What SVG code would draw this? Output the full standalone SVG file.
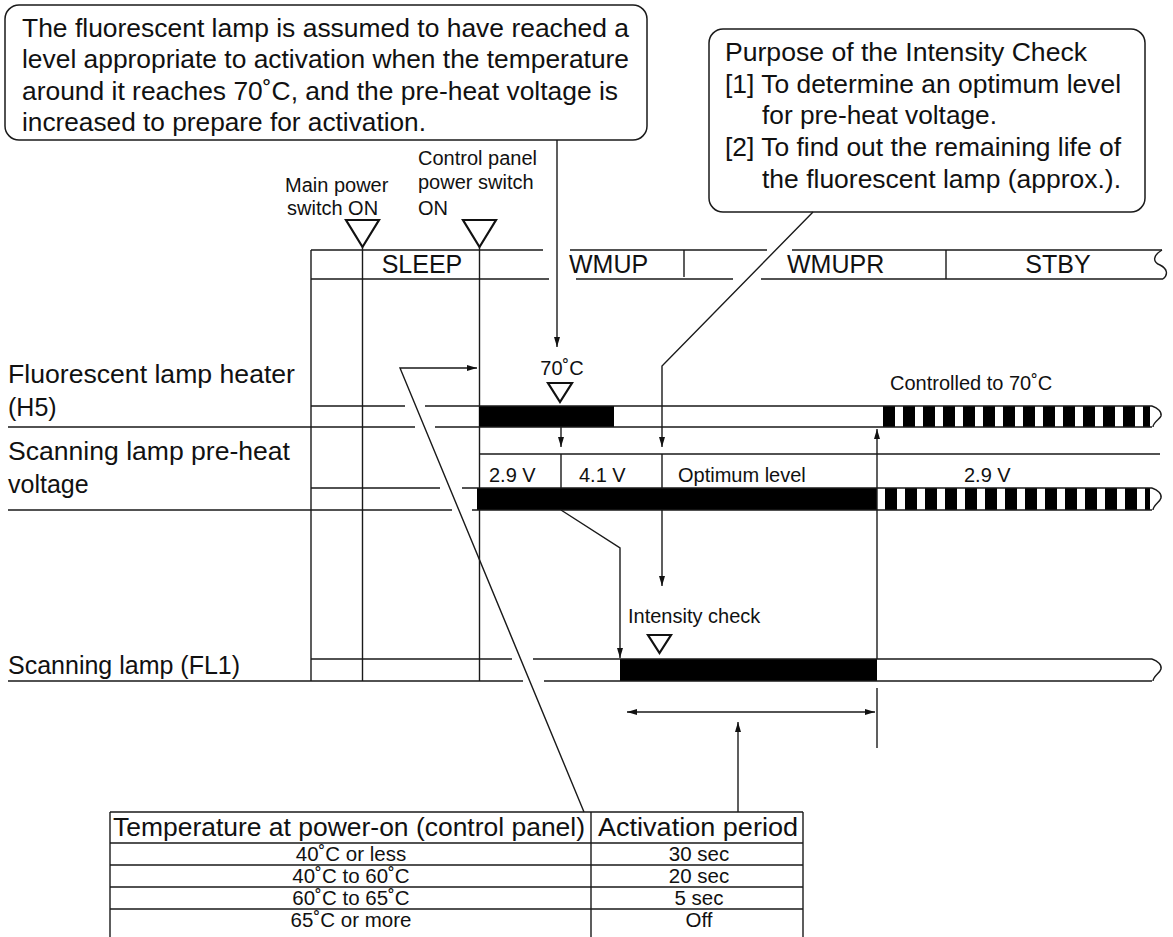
<svg xmlns="http://www.w3.org/2000/svg" width="1173" height="937" viewBox="0 0 1173 937">
<style>
text{font-family:"Liberation Sans",Arial,sans-serif;fill:#111}
.ln{stroke:#1a1a1a;stroke-width:1.4;fill:none}
.tri{stroke:#111;stroke-width:2.2;fill:#fff;stroke-linejoin:miter}
.box{stroke:#1a1a1a;stroke-width:1.5;fill:#fff}
.bar{fill:#000}
.f25{font-size:25px}
.f20{font-size:20px}
.f19{font-size:20.5px}
.mid{text-anchor:middle}
</style>
<defs>
<marker id="ah" viewBox="0 0 10 6" refX="10" refY="3" markerWidth="10" markerHeight="6" orient="auto-start-reverse" markerUnits="userSpaceOnUse"><path d="M0,0 L10,3 L0,6 z" fill="#111"/></marker>
<pattern id="stripeH" patternUnits="userSpaceOnUse" x="883" y="0" width="20" height="50"><rect x="0" y="0" width="12" height="50" fill="#000"/></pattern>
<pattern id="stripeV" patternUnits="userSpaceOnUse" x="885" y="0" width="20" height="50"><rect x="0" y="0" width="12" height="50" fill="#000"/></pattern>
</defs>

<g id="callout-activation">
<rect class="box" x="5" y="5" width="642" height="135" rx="14"/>
<text class="f25" x="22" y="37" textLength="607" lengthAdjust="spacingAndGlyphs">The fluorescent lamp is assumed to have reached a</text>
<text class="f25" x="22" y="68" textLength="607" lengthAdjust="spacingAndGlyphs">level appropriate to activation when the temperature</text>
<text class="f25" x="22" y="100" textLength="596" lengthAdjust="spacingAndGlyphs">around it reaches 70˚C, and the pre-heat voltage is</text>
<text class="f25" x="22" y="131" textLength="404" lengthAdjust="spacingAndGlyphs">increased to prepare for activation.</text>
</g>

<g id="callout-purpose">
<rect class="box" x="709" y="29" width="436" height="183" rx="14"/>
<text class="f25" x="725" y="61" textLength="362" lengthAdjust="spacingAndGlyphs">Purpose of the Intensity Check</text>
<text class="f25" x="725" y="93" textLength="396" lengthAdjust="spacingAndGlyphs">[1] To determine an optimum level</text>
<text class="f25" x="762" y="124" textLength="235" lengthAdjust="spacingAndGlyphs">for pre-heat voltage.</text>
<text class="f25" x="725" y="156" textLength="396" lengthAdjust="spacingAndGlyphs">[2] To find out the remaining life of</text>
<text class="f25" x="762" y="188" textLength="359" lengthAdjust="spacingAndGlyphs">the fluorescent lamp (approx.).</text>
</g>

<g id="switch-main">
<text class="f20" x="285" y="192">Main power</text>
<text class="f20" x="287" y="215">switch ON</text>
<path class="tri" d="M346,220 L379,220 L362.5,247 Z"/>
</g>

<g id="switch-panel">
<text class="f20" x="418" y="165">Control panel</text>
<text class="f20" x="418" y="189">power switch</text>
<text class="f20" x="418" y="215">ON</text>
<path class="tri" d="M463,220 L496,220 L479.5,247 Z"/>
</g>

<g id="state-row">
<path class="ln" d="M311,250 H543 M570,250 H767 M792,250 H1162 M311,279 H549 M576,279 H733 M761,279 H1163"/>
<path class="ln" d="M684,250 V277 M946,250 V279"/>
<path class="ln" d="M1162,250 C1152,256 1153,262 1160,265 C1168,269 1168,275 1163,279"/>
<text class="f25 mid" x="422" y="273">SLEEP</text>
<text class="f25" x="569" y="273">WMUP</text>
<text class="f25" x="787" y="273">WMUPR</text>
<text class="f25 mid" x="1058" y="273">STBY</text>
</g>

<g id="grid">
<path class="ln" d="M311,250 V681 M362.5,247 V681 M479.5,247 V681"/>
</g>

<g id="heater-row">
<text class="f25" x="8" y="383" textLength="287" lengthAdjust="spacingAndGlyphs">Fluorescent lamp heater</text>
<text class="f25" x="8" y="416">(H5)</text>
<rect class="bar" x="479" y="406" width="135" height="21"/>
<rect x="883" y="406" width="267" height="21" fill="url(#stripeH)"/>
<path class="ln" d="M311,406 H405 M425,406 H1152 M8,427 H415 M435,427 H1152"/>
<path class="ln" d="M1152,406 C1158,408 1162,412 1161,416 C1160,419 1153,422 1153,427"/>
<text class="f20 mid" x="562" y="375">70˚C</text>
<path class="tri" d="M548,383 L572,383 L560,402 Z"/>
<text class="f20" x="890" y="390">Controlled to 70˚C</text>
</g>

<g id="voltage-row">
<text class="f25" x="8" y="460" textLength="282" lengthAdjust="spacingAndGlyphs">Scanning lamp pre-heat</text>
<text class="f25" x="8" y="493">voltage</text>
<path class="ln" d="M479,454 H1160 M561,454 V488 M662,454 V488"/>
<text class="f20" x="489" y="482">2.9 V</text>
<text class="f20" x="579" y="482">4.1 V</text>
<text class="f20" x="678" y="482">Optimum level</text>
<text class="f20" x="964" y="482">2.9 V</text>
<rect class="bar" x="477" y="488" width="400" height="22"/>
<rect x="877" y="488" width="273" height="22" fill="url(#stripeV)"/>
<path class="ln" d="M311,488 H440 M462,488 H1152 M8,510 H452 M472,510 H1152"/>
<path class="ln" d="M1152,488 C1158,490 1162,494 1161,498 C1160,502 1153,505 1153,510"/>
</g>

<g id="fl1-row">
<text class="f25" x="8" y="674">Scanning lamp (FL1)</text>
<rect class="bar" x="620" y="659" width="257" height="22"/>
<path class="ln" d="M311,659 H512 M533,659 H1152 M8,681 H523 M544,681 H1152"/>
<path class="ln" d="M1152,659 C1158,661 1162,665 1161,669 C1160,673 1153,676 1153,681"/>
<text class="f20" x="628" y="623">Intensity check</text>
<path class="tri" d="M648,635 L671,635 L659.5,653 Z"/>
</g>

<g id="activation-table">
<path class="ln" d="M110,812 H803 M110,843 H803 M110,865 H803 M110,887 H803 M110,909 H803 M110,812 V937 M591,812 V937 M803,812 V937"/>
<text class="f25" x="113" y="836" textLength="472" lengthAdjust="spacingAndGlyphs">Temperature at power-on (control panel)</text>
<text class="f25" x="598" y="836" textLength="200" lengthAdjust="spacingAndGlyphs">Activation period</text>
<text class="f19 mid" x="351" y="861">40˚C or less</text>
<text class="f19 mid" x="351" y="883">40˚C to 60˚C</text>
<text class="f19 mid" x="351" y="905">60˚C to 65˚C</text>
<text class="f19 mid" x="351" y="927">65˚C or more</text>
<text class="f19 mid" x="699" y="861">30 sec</text>
<text class="f19 mid" x="699" y="883">20 sec</text>
<text class="f19 mid" x="699" y="905">5 sec</text>
<text class="f19 mid" x="699" y="927">Off</text>
</g>

<g id="connectors">
<path class="ln" d="M557,140 V347" marker-end="url(#ah)"/>
<path class="ln" d="M813,212 L662,366 V447" marker-end="url(#ah)"/>
<path class="ln" d="M561,427 V447" marker-end="url(#ah)"/>
<path class="ln" d="M561,510 L620,548 V658" marker-end="url(#ah)"/>
<path class="ln" d="M662,510 V586" marker-end="url(#ah)"/>
<path class="ln" d="M877,659 V429" marker-end="url(#ah)"/>
<path class="ln" d="M877,688 V748"/>
<path class="ln" d="M627,712 H875" marker-start="url(#ah)" marker-end="url(#ah)"/>
<path class="ln" d="M738,812 V722" marker-end="url(#ah)"/>
<path class="ln" d="M584,812 L400,368 H477" marker-end="url(#ah)"/>
</g>
</svg>
